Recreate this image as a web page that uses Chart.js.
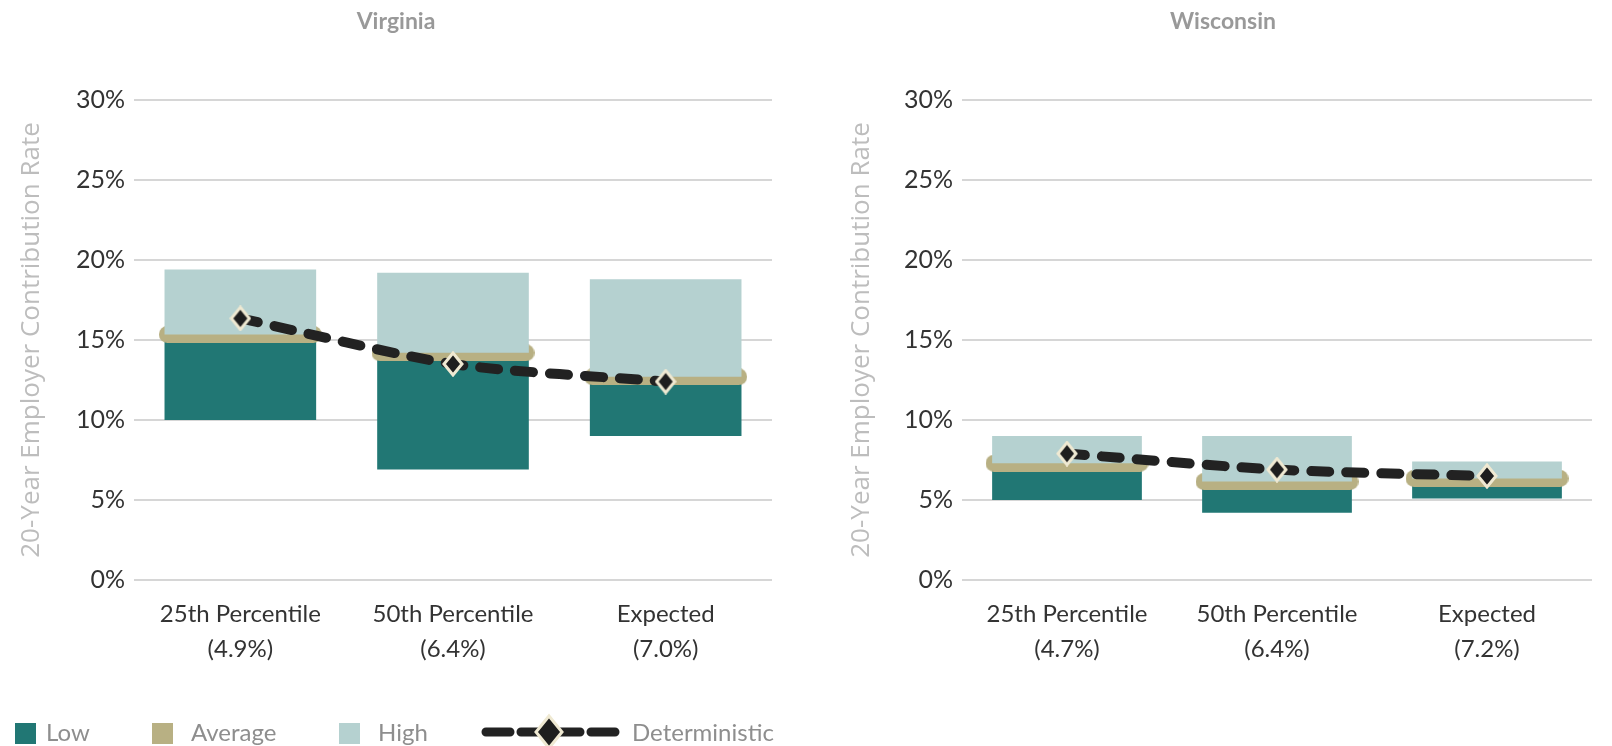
<!DOCTYPE html>
<html>
<head>
<meta charset="utf-8">
<script src="https://cdn.jsdelivr.net/npm/chart.js@4/dist/chart.umd.min.js"></script>
<style>
  html, body { margin: 0; padding: 0; background: #ffffff; }
  body { width: 1612px; height: 746px; position: relative; overflow: hidden; }
  .panel { position: absolute; top: 0; }
  .legend { position: absolute; left: 0; top: 0; width: 1612px; height: 746px; pointer-events: none; }
  .sw { position: absolute; top: 723px; width: 21px; height: 21px; }
  .lt { position: absolute; top: 717px; font-family: Lato, sans-serif; font-size: 24px; color: #8e8e8e; line-height: 30px; }
</style>
</head>
<body>
<div class="panel" style="left:0px;"><canvas id="virginia" width="792" height="690"></canvas></div>
<div class="panel" style="left:806px;"><canvas id="wisconsin" width="806" height="690"></canvas></div>

<div class="legend">
  <div class="sw" style="left:15px; background:#217774;"></div>
  <div class="lt" style="left:46px;">Low</div>
  <div class="sw" style="left:152px; background:#b8b083;"></div>
  <div class="lt" style="left:191px;">Average</div>
  <div class="sw" style="left:339px; background:#b5d1d0;"></div>
  <div class="lt" style="left:378px;">High</div>
  <svg style="position:absolute; left:470px; top:712px;" width="160" height="40" viewBox="0 0 160 40">
    <line x1="16" y1="20" x2="146" y2="20" stroke="#222" stroke-width="9" stroke-linecap="round" stroke-dasharray="24 11"/>
    <polygon points="79,4 92,20 79,36 66,20" fill="#1e1e1e" stroke="#efe9d2" stroke-width="3"/>
  </svg>
  <div class="lt" style="left:632px;">Deterministic</div>
</div>

<script>
// Scenario categories and the assumed-return line shown under each
const categoryLabels = ['25th Percentile', '50th Percentile', 'Expected'];
const virginiaReturns = ['(4.9%)', '(6.4%)', '(7.0%)'];
const wisconsinReturns = ['(4.7%)', '(6.4%)', '(7.2%)'];

// Virginia: 20-year employer contribution rate (%)
const virginiaLow = [10.0, 6.9, 9.0];
const virginiaAverage = [15.35, 14.2, 12.7];
const virginiaHigh = [19.4, 19.2, 18.8];
const virginiaDeterministic = [16.35, 13.5, 12.4];

// Wisconsin: 20-year employer contribution rate (%)
const wisconsinLow = [5.0, 4.2, 5.1];
const wisconsinAverage = [7.3, 6.15, 6.35];
const wisconsinHigh = [9.0, 9.0, 7.4];
const wisconsinDeterministic = [7.9, 6.9, 6.5];

// Value axis
const yMin = 0;
const yMax = 30;
const yStep = 5;

const COLORS = {
  low: '#217774',
  average: '#b8b083',
  high: '#b5d1d0',
  line: '#222222',
  markerEdge: '#efe9d2',
  grid: '#d6d6d6',
  tick: '#333333',
  axisTitle: '#bdbdbd',
  title: '#999999'
};

// Rounded tan band used as the "Average" marker
function makeBand(w, h) {
  const c = document.createElement('canvas');
  c.width = w; c.height = h;
  const g = c.getContext('2d');
  const r = h / 2;
  g.fillStyle = COLORS.average;
  g.beginPath();
  g.moveTo(r, 0);
  g.lineTo(w - r, 0);
  g.arc(w - r, r, r, -Math.PI / 2, Math.PI / 2);
  g.lineTo(r, h);
  g.arc(r, r, r, Math.PI / 2, Math.PI * 1.5);
  g.closePath();
  g.fill();
  return c;
}

// Black diamond with a cream outline for the deterministic line
function makeDiamond(w, h) {
  const c = document.createElement('canvas');
  c.width = w; c.height = h;
  const g = c.getContext('2d');
  g.beginPath();
  g.moveTo(w / 2, 2);
  g.lineTo(w - 2, h / 2);
  g.lineTo(w / 2, h - 2);
  g.lineTo(2, h / 2);
  g.closePath();
  g.fillStyle = '#1e1e1e';
  g.fill();
  g.lineWidth = 3;
  g.strokeStyle = COLORS.markerEdge;
  g.stroke();
  return c;
}

const bandImg = makeBand(163, 17);
const diamondImg = makeDiamond(22, 26);

function buildChart(canvasId, title, returns, low, avg, high, det, layout) {
  const labels = categoryLabels.map((c, i) => [c, returns[i]]);
  return new Chart(document.getElementById(canvasId), {
    data: {
      labels: labels,
      datasets: [
        {
          type: 'line',
          label: 'Deterministic',
          data: det,
          order: 0,
          borderColor: COLORS.line,
          borderWidth: 10,
          borderDash: [18, 17],
          borderCapStyle: 'round',
          tension: 0.25,
          fill: false,
          pointStyle: diamondImg,
          pointRadius: 10,
          pointHoverRadius: 10
        },
        {
          type: 'bar',
          label: 'High',
          data: avg.map((a, i) => [a, high[i]]),
          order: 1,
          grouped: false,
          backgroundColor: COLORS.high,
          borderWidth: 0,
          barPercentage: 0.713,
          categoryPercentage: 1
        },
        {
          type: 'line',
          label: 'Average',
          data: avg,
          order: 2,
          showLine: false,
          pointStyle: bandImg,
          pointRadius: 10,
          pointHoverRadius: 10
        },
        {
          type: 'bar',
          label: 'Low',
          data: low.map((l, i) => [l, avg[i]]),
          order: 3,
          grouped: false,
          backgroundColor: COLORS.low,
          borderWidth: 0,
          barPercentage: 0.713,
          categoryPercentage: 1
        }
      ]
    },
    options: {
      responsive: false,
      animation: false,
      events: [],
      layout: { padding: { left: layout.padLeft, right: layout.padRight, top: 0, bottom: 0 } },
      plugins: {
        legend: { display: false },
        tooltip: { enabled: false },
        title: {
          display: true,
          text: title,
          color: COLORS.title,
          font: { family: 'Lato', size: 23, weight: 'bold', lineHeight: 1.2 },
          padding: { top: 8, bottom: 64.4 }
        }
      },
      scales: {
        x: {
          grid: { display: false, drawTicks: false },
          border: { display: false },
          ticks: {
            color: COLORS.tick,
            font: { family: 'Lato', size: 24, lineHeight: '35px' },
            padding: 17,
            maxRotation: 0,
            autoSkip: false
          },
          afterFit: (s) => { s.height = 110; }
        },
        y: {
          min: yMin,
          max: yMax,
          grid: { color: COLORS.grid, lineWidth: 2, drawTicks: false },
          border: { display: false },
          ticks: {
            stepSize: yStep,
            color: COLORS.tick,
            font: { family: 'Lato', size: 25 },
            padding: 9,
            callback: (v) => v + '%'
          },
          title: {
            display: true,
            text: '20-Year Employer Contribution Rate',
            color: COLORS.axisTitle,
            font: { family: 'Open Sans', size: 26, lineHeight: 1.2 },
            padding: { top: layout.titlePad, bottom: 0 }
          },
          afterFit: (s) => { s.width = layout.yWidth; }
        }
      }
    }
  });
}

buildChart('virginia', 'Virginia', virginiaReturns,
  virginiaLow, virginiaAverage, virginiaHigh, virginiaDeterministic,
  { padLeft: 13, padRight: 13, yWidth: 121, titlePad: 3 });

buildChart('wisconsin', 'Wisconsin', wisconsinReturns,
  wisconsinLow, wisconsinAverage, wisconsinHigh, wisconsinDeterministic,
  { padLeft: 34, padRight: 6, yWidth: 122, titlePad: 6 });
</script>
</body>
</html>
